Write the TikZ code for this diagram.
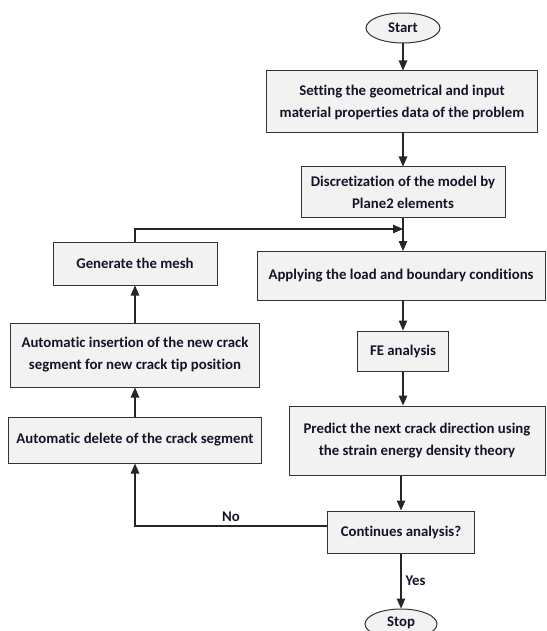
\documentclass[tikz,border=0pt]{standalone}
\usepackage{fontspec}
\setmainfont{Carlito}[Ligatures=NoCommon]
\usetikzlibrary{arrows.meta,shapes.geometric}
\definecolor{boxfill}{HTML}{F2F2F2}
\definecolor{txt}{HTML}{141428}
\begin{document}
\begin{tikzpicture}[x=1pt,y=-1pt,
  every node/.style={font=\fontsize{14.8}{22}\selectfont\bfseries, text=txt, align=center, inner sep=0pt},
  pbox/.style={draw=black!80, line width=1pt, fill=boxfill, rectangle},
  term/.style={draw=black!80, line width=1pt, fill=boxfill, ellipse, minimum width=74, minimum height=30},
  arr/.style={draw=black!85, line width=1.1pt, -{Triangle[length=10pt,width=8.5pt]}},
  lbl/.style={fill=none}]
\useasboundingbox (0,0) rectangle (546,631);
\node[term] (start) at (403,28) {Start};
\node[pbox, minimum width=271, minimum height=62] (b1) at (402,102) {Setting the geometrical and input\\material properties data of the problem};
\node[pbox, minimum width=204, minimum height=50] (b2) at (403,192) {Discretization of the model by\\Plane2 elements};
\node[pbox, minimum width=288, minimum height=49] (b3) at (401,276) {Applying the load and boundary conditions};
\node[pbox, minimum width=91, minimum height=40] (fe) at (403,351) {FE analysis};
\node[pbox, minimum width=256, minimum height=69] (pred) at (417,440.5) {Predict the next crack direction using\\the strain energy density theory};
\node[pbox, minimum width=147, minimum height=42] (cont) at (401,532) {Continues analysis?};
\node[term, minimum width=72] (stop) at (401,624) {\raisebox{5pt}{Stop}};
\node[pbox, minimum width=164, minimum height=43] (gen) at (135,263.5) {Generate the mesh};
\node[pbox, minimum width=249, minimum height=64] (ins) at (135,355) {Automatic insertion of the new crack\\segment for new crack tip position};
\node[pbox, minimum width=253, minimum height=46] (del) at (135,440) {Automatic delete of the crack segment};
\coordinate (fb) at (403,229);
\draw[arr] (start.south) -- (start.south |- b1.north);
\draw[arr] (b1.south -| b2.north) -- (b2.north);
\draw[arr] (b2.south) -- (b2.south |- b3.north);
\draw[arr] (gen.north) |- (fb);
\draw[arr] (b3.south -| fe.north) -- (fe.north);
\draw[arr] (fe.south) -- (fe.south |- pred.north);
\draw[arr] (pred.south -| cont.north) -- (cont.north);
\draw[arr] (cont.south) -- (stop.north) node[lbl, midway, right=4pt] {Yes};
\draw[arr] ([yshift=6pt]cont.west) -| (del.south) node[lbl, pos=0.25, above=4pt] {No};
\draw[arr] (del.north) -- (ins.south);
\draw[arr] (ins.north) -- (gen.south);
\end{tikzpicture}
\end{document}
